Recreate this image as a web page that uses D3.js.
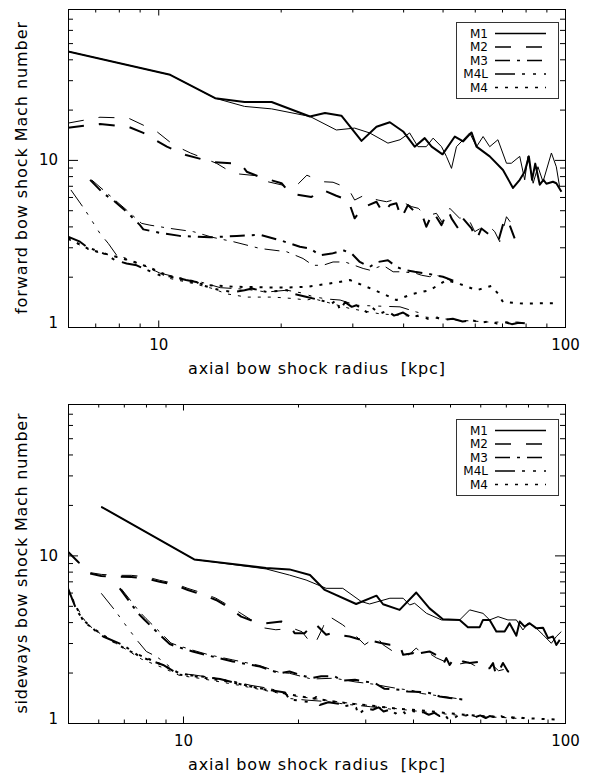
<!DOCTYPE html>
<html>
<head>
<meta charset="utf-8">
<script src="https://cdn.jsdelivr.net/npm/d3@7"></script>
<style>
  body { margin: 0; background: #fff; }
  svg { display: block; }
  text { font-family: "DejaVu Sans", sans-serif; fill: #000; white-space: pre; }
</style>
</head>
<body>
<div id="chart"></div>
<script>
// Leyenda: modelos y estilos de línea
const models = ["M1", "M2", "M3", "M4L", "M4"];

// Panel superior: número de Mach del choque frontal  [radio kpc, Mach]
const fwdM1Thick = [[6.0,44.6],[10.7,32.3],[13.8,23.4],[16.3,22.2],[19.0,22.2],[23.6,18.2],[25.7,19.1],[28.2,18.4],[31.6,13.0],[34.4,15.8],[37.1,16.8],[40.0,14.8],[42.7,12.0],[45.2,13.5],[47.0,12.0],[50.0,10.8],[53.6,13.8],[56.2,12.9],[58.9,14.6],[60.6,12.0],[65.3,10.5],[70.4,8.7],[74.5,6.8],[77.4,7.6],[79.6,8.5],[81.5,10.5],[83.0,7.6],[84.5,9.5],[86.7,7.1],[88.5,7.6],[90.0,7.2],[93.4,7.4],[95.2,7.25],[98.0,6.45]];
const fwdM1Thin = [[6.0,44.6],[10.7,32.3],[13.8,23.4],[16.3,20.9],[19.0,20.2],[23.6,18.2],[27.4,15.1],[30.4,15.5],[33.1,14.5],[36.7,12.6],[39.3,13.2],[41.5,14.5],[43.5,12.0],[45.6,12.0],[47.4,13.5],[49.7,12.0],[51.1,10.5],[52.6,8.9],[54.1,12.0],[56.2,13.2],[58.3,14.5],[60.6,12.0],[62.9,13.8],[65.3,12.0],[68.4,13.2],[71.8,9.55],[73.8,9.55],[77.4,10.5],[79.6,7.6],[81.1,10.5],[83.5,7.25],[85.8,9.1],[88.3,7.4],[92.6,11.0],[95.2,9.1],[97.0,6.9]];
const fwdM2Thick = [[6.0,15.6],[7.19,16.4],[8.44,15.8],[9.19,14.5],[10.5,12.0],[11.7,10.7],[13.6,9.7],[15.1,9.55],[16.0,9.4],[16.5,8.5],[17.8,7.9],[20.1,7.25],[21.1,6.3],[23.8,6.0],[25.4,6.6],[27.4,6.1],[29.3,5.75],[30.4,4.47],[31.3,4.9],[32.2,5.25],[34.4,5.62],[35.7,4.79],[37.1,5.37],[38.5,5.5],[39.6,4.47],[41.1,5.37],[42.7,4.9],[44.4,4.79],[45.6,3.98],[47.4,4.9],[49.7,4.07],[51.6,5.01],[52.6,4.47],[54.6,3.89],[55.7,4.57],[58.9,3.89],[60.6,3.31],[62.3,3.89],[65.3,3.55],[68.5,3.24],[71.1,4.47],[73.1,4.07],[75.2,3.39]];
const fwdM2Thin = [[6.0,16.6],[7.19,18.0],[8.44,17.8],[9.91,14.8],[10.9,12.3],[12.0,11.0],[13.9,9.55],[15.3,8.3],[17.8,8.0],[18.6,7.4],[21.1,6.9],[22.1,7.2],[23.2,8.1],[25.2,7.41],[26.9,7.35],[29.3,6.76],[30.4,5.75],[32.2,6.17],[33.4,5.89],[34.7,5.75],[36.4,5.62],[37.8,5.75],[39.3,5.62],[40.4,5.5],[42.0,5.25],[43.6,5.13],[45.2,4.68],[46.5,4.68],[48.3,4.79],[50.1,4.17],[52.1,5.13],[55.1,4.47],[57.3,4.68],[60.0,3.72],[62.9,3.98],[64.7,4.07],[67.2,3.72],[69.1,3.24],[71.8,4.57],[73.8,4.17]];
const fwdM3Thick = [[6.8,7.59],[7.33,6.31],[7.83,5.62],[8.36,4.9],[9.02,4.07],[9.19,3.84],[10.1,3.66],[11.3,3.51],[13.4,3.44],[15.6,3.51],[17.8,3.56],[19.9,3.31],[22.3,3.02],[23.6,2.95],[25.0,2.69],[26.7,2.75],[28.5,2.88],[29.9,2.75],[31.3,2.45],[33.1,2.29],[34.7,2.45],[36.7,2.51],[38.5,2.29],[40.4,2.19],[42.7,2.14],[45.6,2.09],[50.1,2.0],[53.6,1.88]];
const fwdM3Thin = [[6.86,7.59],[8.36,5.01],[9.1,4.17],[9.54,4.07],[10.7,3.89],[12.2,3.72],[13.6,3.44],[15.3,3.24],[17.8,2.95],[20.7,2.82],[22.7,2.57],[24.0,2.34],[25.4,2.34],[26.9,2.45],[28.8,2.45],[31.9,2.24],[33.1,2.19],[35.7,2.34],[37.8,2.14],[40.0,2.14],[43.1,2.09],[44.4,2.04],[46.5,2.0],[48.3,2.04],[51.1,1.95],[53.1,1.86]];
const fwdM4LThick = [[6.0,3.47],[6.42,3.24],[6.67,3.02],[7.4,2.73],[7.83,2.51],[8.36,2.4],[8.85,2.34],[9.19,2.24],[10.1,2.04],[10.9,2.0],[11.7,1.91],[12.4,1.86],[12.8,1.78],[14.2,1.66],[15.3,1.62],[16.3,1.66],[17.0,1.7],[18.5,1.62],[20.7,1.66],[21.5,1.58],[23.2,1.51],[25.0,1.45],[26.7,1.38],[27.4,1.45],[28.0,1.26],[28.8,1.41],[29.9,1.32],[30.7,1.35],[31.6,1.29],[32.5,1.23],[33.4,1.32],[35.0,1.2],[36.5,1.25],[38.0,1.17],[40.0,1.22],[42.0,1.14],[44.0,1.18],[46.0,1.12],[48.0,1.15],[50.0,1.1],[53.0,1.12],[56.0,1.08],[59.0,1.1],[62.0,1.06],[65.0,1.08],[68.0,1.05],[71.0,1.07],[74.0,1.04],[77.0,1.06],[80.5,1.05]];
const fwdM4LThin = [[6.1,6.61],[6.61,5.01],[7.19,3.63],[7.54,3.16],[7.9,2.69],[8.36,2.57],[9.02,2.4],[10.1,2.1],[11.5,1.95],[12.8,1.85],[14.2,1.72],[16.5,1.68],[18.5,1.62],[20.7,1.66],[22.5,1.6],[24.0,1.52],[26.0,1.47],[28.0,1.45],[30.7,1.35],[33.0,1.34],[36.0,1.33],[39.3,1.32],[43.1,1.23],[45.0,1.2]];
const fwdM4Thick = [[6.0,3.4],[6.8,2.9],[7.6,2.7],[8.5,2.5],[9.4,2.3],[10.7,2.0],[12.2,1.85],[13.2,1.78],[15.5,1.74],[17.8,1.73],[20.5,1.72],[23.2,1.74],[26.4,1.82],[29.6,1.91],[32.5,1.74],[35.7,1.58],[38.5,1.45],[42.3,1.58],[46.5,1.66],[51.1,1.91],[56.2,1.78],[60.6,1.66],[65.9,1.76],[68.5,1.58],[70.4,1.41],[78.9,1.38],[95.2,1.39]];
const fwdM4Thin = [[6.0,3.35],[6.8,2.88],[7.6,2.69],[8.5,2.51],[9.37,2.29],[10.7,1.95],[12.2,1.82],[13.6,1.7],[14.7,1.58],[16.5,1.51],[19.2,1.51],[21.5,1.48],[23.2,1.45],[24.0,1.48],[25.9,1.41],[29.6,1.29],[35.0,1.2],[40.0,1.17],[44.8,1.15],[54.1,1.1],[65.3,1.07],[78.9,1.07]];

// Panel inferior: número de Mach del choque lateral
const sideM1Thick = [[6.11,19.5],[10.7,9.46],[16.5,8.4],[19.0,8.25],[21.5,7.63],[23.5,6.22],[28.4,5.13],[32.1,5.75],[33.4,5.11],[36.9,4.73],[40.8,6.0],[44.2,4.83],[47.9,4.16],[53.0,4.12],[55.7,3.73],[59.8,3.73],[61.0,4.12],[63.5,4.12],[66.1,3.51],[69.5,3.51],[71.6,3.94],[74.6,3.32],[76.1,4.03],[78.4,3.76],[80.8,3.94],[84.2,3.67],[87.6,3.7],[90.3,3.21],[93.0,3.28],[94.9,2.92],[96.9,3.13]];
const sideM1Thin = [[6.11,19.5],[10.7,9.46],[16.5,8.3],[19.0,7.63],[21.0,7.13],[23.7,6.36],[26.2,6.36],[29.3,5.3],[30.8,5.13],[34.8,5.55],[37.7,5.55],[39.2,5.06],[40.4,5.18],[43.4,4.51],[47.5,4.12],[53.0,4.12],[56.3,4.73],[61.0,4.51],[63.5,4.12],[66.8,4.31],[70.9,4.12],[74.6,4.12],[77.6,3.59],[80.0,3.94],[83.3,3.76],[87.6,3.36],[92.1,2.99],[94.9,3.28],[97.8,3.51]];
const sideM2Thick = [[5.0,10.5],[5.31,9.16],[5.7,7.81],[6.11,7.53],[6.76,7.46],[7.32,7.43],[8.02,7.29],[8.69,6.97],[9.51,6.66],[10.3,6.22],[11.3,5.8],[12.2,5.42],[13.3,4.83],[14.2,4.31],[15.4,4.03],[16.5,3.94],[18.1,4.03],[19.0,3.85],[19.6,3.43],[20.8,3.43],[22.1,3.94],[23.7,3.36],[24.5,3.43],[25.2,3.36],[27.3,3.28],[29.3,3.13],[31.0,3.1],[33.0,3.0],[34.8,2.93],[36.9,2.93],[37.7,2.55],[40.0,2.61],[40.8,2.86],[41.7,2.61],[44.2,2.67],[46.0,2.55],[47.9,2.22],[48.9,2.44],[49.9,2.22],[50.9,2.38],[52.5,2.22],[54.1,2.33],[56.3,2.28],[60.4,2.33],[61.6,2.12],[63.5,2.12],[64.8,2.28],[66.1,1.9],[68.8,2.28],[70.9,2.03],[73.8,2.03],[74.6,1.9]];
const sideM2Thin = [[5.0,10.5],[5.31,9.16],[5.7,7.9],[6.11,7.7],[6.76,7.6],[7.32,7.6],[8.02,7.45],[8.69,7.1],[9.51,6.8],[10.3,6.35],[11.3,5.95],[12.2,5.55],[13.3,4.95],[14.2,4.5],[15.4,4.0],[16.2,3.7],[17.5,3.6],[19.4,3.67],[20.5,3.5],[21.3,3.13],[22.1,2.93],[23.3,3.76],[23.7,4.31],[24.2,4.31],[26.2,3.85],[27.9,3.43],[29.9,2.93],[32.1,3.28],[33.4,2.93],[35.5,2.67],[36.9,2.67],[39.0,2.55],[40.8,2.8],[42.5,2.55],[44.2,2.6],[46.0,2.45],[48.0,2.35],[50.0,2.3],[53.0,2.25],[56.0,2.3],[58.0,2.2],[61.0,2.15],[64.8,2.2],[67.0,2.05],[70.0,2.1]];
const sideM3Thick = [[6.83,6.36],[7.63,4.51],[7.94,4.12],[8.69,3.36],[9.23,2.96],[9.51,2.88],[10.6,2.67],[11.7,2.52],[13.5,2.33],[15.9,2.17],[17.9,1.98],[19.0,2.03],[20.2,1.94],[21.7,1.85],[23.0,1.9],[24.9,1.9],[26.2,1.79],[28.2,1.81],[29.9,1.77],[31.8,1.73],[33.7,1.6],[36.9,1.58],[38.8,1.54],[42.1,1.53],[44.2,1.51],[47.0,1.44],[49.9,1.41],[54.1,1.38]];
const sideM3Thin = [[6.9,6.3],[7.7,4.6],[8.0,4.2],[8.8,3.4],[9.3,3.0],[9.6,2.92],[10.6,2.72],[11.7,2.55],[13.5,2.38],[15.9,2.2],[17.9,2.0],[19.0,1.98],[21.7,1.83],[24.9,1.85],[28.2,1.76],[31.8,1.7],[34.0,1.65],[36.9,1.6],[40.0,1.56],[42.1,1.5],[47.0,1.45],[52.0,1.4]];
const sideM4LThick = [[5.0,6.36],[5.26,4.73],[5.48,4.12],[5.93,3.51],[6.18,3.28],[6.97,2.92],[7.7,2.49],[8.87,2.22],[9.8,1.94],[10.6,1.92],[11.5,1.88],[12.5,1.83],[13.5,1.75],[14.5,1.68],[15.5,1.63],[17.0,1.57],[18.5,1.52],[19.0,1.38],[20.2,1.36],[21.5,1.33],[22.3,1.43],[22.8,1.28],[24.0,1.33],[25.7,1.3],[26.5,1.26],[27.5,1.28],[28.4,1.23],[28.8,1.12],[30.0,1.22],[31.4,1.2],[32.5,1.24],[33.5,1.17],[34.8,1.2],[36.0,1.14],[37.5,1.19],[38.4,1.12],[40.0,1.18],[41.5,1.13],[42.5,1.16],[44.0,1.12],[45.5,1.15],[47.0,1.1],[48.5,1.12],[49.5,1.05],[51.0,1.06],[52.5,1.11],[54.1,1.1],[56.0,1.12],[58.0,1.08],[60.0,1.11],[62.0,1.07],[63.5,1.1],[66.0,1.08],[68.0,1.1],[70.0,1.07],[72.0,1.09],[74.0,1.06],[76.0,1.08],[77.6,1.07]];
const sideM4LThin = [[6.11,5.94],[6.62,4.73],[7.1,3.8],[7.63,3.06],[8.02,2.67],[8.52,2.49],[8.87,2.33],[9.7,1.98],[10.6,1.94],[12.0,1.86],[13.5,1.78],[15.0,1.68],[16.5,1.62],[18.0,1.55],[19.0,1.4],[21.0,1.37],[23.0,1.35],[25.0,1.32],[27.0,1.29],[29.0,1.27],[31.0,1.25],[34.0,1.22],[36.0,1.2]];
const sideM4Thick = [[5.0,6.2],[5.5,4.0],[6.0,3.5],[6.5,3.1],[7.2,2.7],[8.0,2.45],[8.9,2.2],[9.8,1.98],[11.0,1.88],[12.5,1.8],[14.0,1.72],[16.0,1.6],[18.0,1.52],[20.0,1.45],[22.0,1.4],[25.0,1.34],[28.0,1.3],[32.0,1.26],[36.0,1.22],[40.0,1.2],[45.0,1.17],[50.0,1.14],[55.0,1.12],[60.0,1.1],[66.0,1.09],[72.0,1.08],[78.0,1.07],[85.0,1.06],[95.0,1.05]];
const sideM4Thin = [[5.0,6.0],[5.6,3.9],[6.2,3.3],[7.0,2.8],[7.8,2.4],[8.8,2.15],[9.8,1.92],[11.0,1.85],[12.5,1.76],[14.0,1.68],[16.0,1.58],[18.0,1.5],[20.0,1.44],[23.0,1.38],[26.0,1.33],[30.0,1.28],[34.0,1.24],[38.0,1.2],[42.0,1.17],[47.0,1.14],[53.0,1.11],[60.0,1.09],[68.0,1.08],[78.0,1.06]];

const yDomain = [1, 80];
const xTitle = "axial bow shock radius  [kpc]";

const width = 591, height = 776;
const left = 68, right = 565;

// patrones de línea (estilo IDL)
const dashes = {
    "M1": null,
    "M2": "16,15",
    "M3": "15,7,3,7",
    "M4L": "20,7,3,8,3,8,3,8",
    "M4": "3,7"
};

const panels = [
    {
        id: "fwd", top: 9, bottom: 327, xDomain: [6, 100], legendTop: 22,
        yTitle: "forward bow shock Mach number", yTitleLen: 292,
        series: [
            ["M1", fwdM1Thick, true], ["M1", fwdM1Thin, false],
            ["M2", fwdM2Thick, true], ["M2", fwdM2Thin, false],
            ["M3", fwdM3Thick, true], ["M3", fwdM3Thin, false],
            ["M4L", fwdM4LThick, true], ["M4L", fwdM4LThin, false],
            ["M4", fwdM4Thick, true], ["M4", fwdM4Thin, false]
        ]
    },
    {
        id: "side", top: 404, bottom: 723, xDomain: [5, 100], legendTop: 419,
        yTitle: "sideways bow shock Mach number", yTitleLen: 300,
        series: [
            ["M1", sideM1Thick, true], ["M1", sideM1Thin, false],
            ["M2", sideM2Thick, true], ["M2", sideM2Thin, false],
            ["M3", sideM3Thick, true], ["M3", sideM3Thin, false],
            ["M4L", sideM4LThick, true], ["M4L", sideM4LThin, false],
            ["M4", sideM4Thick, true], ["M4", sideM4Thin, false]
        ]
    }
];

const svg = d3.select("#chart").append("svg")
    .attr("width", width)
    .attr("height", height);

const isMajor = v => Math.abs(Math.log10(v) - Math.round(Math.log10(v))) < 1e-9;

function styleAxis(sel) {
    sel.select(".domain").remove();
    sel.selectAll("line").attr("stroke", "#000");
    sel.attr("font-family", null).attr("font-size", null);
    sel.selectAll("text").attr("font-size", 15).attr("fill", "#000");
}

function drawPanel(p) {
    const x = d3.scaleLog().domain(p.xDomain).range([left, right]);
    const y = d3.scaleLog().domain(yDomain).range([p.bottom, p.top]);
    const g = svg.append("g");

    const xMinor = x.ticks().filter(v => !isMajor(v));
    const xMajor = x.ticks().filter(isMajor);
    const yMinor = y.ticks().filter(v => !isMajor(v));
    const yMajor = y.ticks().filter(isMajor);

    // eje inferior
    g.append("g").attr("transform", `translate(0,${p.bottom})`)
        .call(d3.axisBottom(x).tickValues(xMinor).tickSize(-3.5).tickFormat(""))
        .call(styleAxis);
    g.append("g").attr("transform", `translate(0,${p.bottom})`)
        .call(d3.axisBottom(x).tickValues(xMajor).tickSize(-6.5).tickPadding(12).tickFormat(d3.format("d")))
        .call(styleAxis);
    // eje superior
    g.append("g").attr("transform", `translate(0,${p.top})`)
        .call(d3.axisTop(x).tickValues(xMinor).tickSize(-3.5).tickFormat(""))
        .call(styleAxis);
    g.append("g").attr("transform", `translate(0,${p.top})`)
        .call(d3.axisTop(x).tickValues(xMajor).tickSize(-6.5).tickFormat(""))
        .call(styleAxis);
    // eje izquierdo
    g.append("g").attr("transform", `translate(${left},0)`)
        .call(d3.axisLeft(y).tickValues(yMinor).tickSize(-5).tickFormat(""))
        .call(styleAxis);
    const yAx = g.append("g").attr("transform", `translate(${left},0)`)
        .call(d3.axisLeft(y).tickValues(yMajor).tickSize(-10).tickPadding(10).tickFormat(d3.format("d")))
        .call(styleAxis);
    yAx.selectAll("text").filter(d => d === 1).attr("dy", "0em");
    // eje derecho
    g.append("g").attr("transform", `translate(${right},0)`)
        .call(d3.axisRight(y).tickValues(yMinor).tickSize(-5).tickFormat(""))
        .call(styleAxis);
    g.append("g").attr("transform", `translate(${right},0)`)
        .call(d3.axisRight(y).tickValues(yMajor).tickSize(-10).tickFormat(""))
        .call(styleAxis);

    // marco
    g.append("rect")
        .attr("x", left + 0.5).attr("y", p.top + 0.5)
        .attr("width", right - left).attr("height", p.bottom - p.top)
        .attr("fill", "none").attr("stroke", "#000").attr("stroke-width", 1);

    // curvas
    g.append("clipPath").attr("id", "clip-" + p.id)
        .append("rect").attr("x", left).attr("y", p.top)
        .attr("width", right - left + 1).attr("height", p.bottom - p.top + 1);

    const line = d3.line().x(d => x(d[0])).y(d => y(d[1]));
    g.append("g").attr("clip-path", `url(#clip-${p.id})`)
        .selectAll("path")
        .data(p.series)
        .enter().append("path")
        .attr("d", d => line(d[1]))
        .attr("fill", "none")
        .attr("stroke", "#000")
        .attr("stroke-width", d => d[2] ? 2 : 1)
        .attr("stroke-dasharray", d => dashes[d[0]])
        .attr("stroke-linejoin", "round");

    // títulos
    g.append("text")
        .attr("x", (left + right) / 2).attr("y", p.bottom + 47)
        .attr("text-anchor", "middle")
        .attr("font-size", 16)
        .attr("xml:space", "preserve")
        .attr("textLength", 257).attr("lengthAdjust", "spacing")
        .text(xTitle);
    g.append("text")
        .attr("transform", `translate(27,${(p.top + p.bottom) / 2}) rotate(-90)`)
        .attr("text-anchor", "middle")
        .attr("font-size", 16)
        .attr("textLength", p.yTitleLen).attr("lengthAdjust", "spacing")
        .text(p.yTitle);

    // leyenda
    const lg = g.append("g");
    lg.append("rect")
        .attr("x", 456.5).attr("y", p.legendTop + 0.5)
        .attr("width", 102).attr("height", 76)
        .attr("fill", "#fff").attr("stroke", "#333").attr("stroke-width", 1);
    const rows = lg.selectAll(".row")
        .data(models)
        .enter().append("g")
        .attr("class", "row")
        .attr("transform", (d, i) => `translate(0,${p.legendTop + 11.5 + i * 13.5})`);
    rows.append("text")
        .attr("x", 488).attr("dy", "0.36em")
        .attr("text-anchor", "end")
        .attr("font-size", 12)
        .text(d => d);
    rows.append("line")
        .attr("x1", 495).attr("x2", 546)
        .attr("stroke", "#000").attr("stroke-width", 1.5)
        .attr("stroke-dasharray", d => dashes[d]);
}

panels.forEach(drawPanel);
</script>
</body>
</html>
